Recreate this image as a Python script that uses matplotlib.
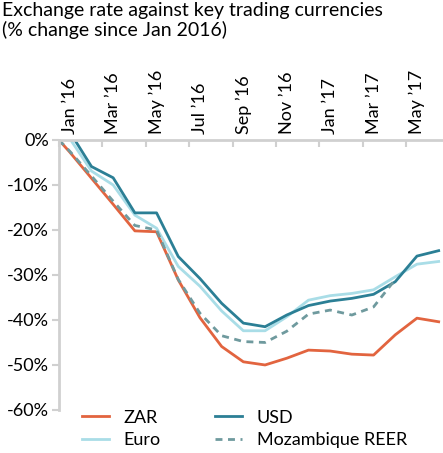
import numpy as np
import matplotlib
matplotlib.use("Agg")
import matplotlib.pyplot as plt

plt.rcParams['font.family'] = ['Lato', 'DejaVu Sans']

# monthly values, Jan '16 .. Jun '17 (% change since start of Jan 2016)
months = ["Jan '16", "Feb '16", "Mar '16", "Apr '16", "May '16", "Jun '16",
          "Jul '16", "Aug '16", "Sep '16", "Oct '16", "Nov '16", "Dec '16",
          "Jan '17", "Feb '17", "Mar '17", "Apr '17", "May '17", "Jun '17"]
zar = [-2.7, -8.5, -14.3, -20.2, -20.4, -31.1, -39.5, -45.9, -49.3, -50.0,
       -48.5, -46.7, -46.9, -47.6, -47.8, -43.3, -39.6, -40.4]
usd = [1.8, -5.9, -8.4, -16.2, -16.2, -25.9, -30.8, -36.3, -40.7, -41.5,
       -38.9, -36.8, -35.8, -35.2, -34.3, -31.5, -25.8, -24.6]
euro = [0.3, -6.9, -10.0, -16.7, -19.6, -28.1, -32.5, -38.0, -42.4, -42.4,
        -39.3, -35.6, -34.6, -34.1, -33.3, -30.4, -27.6, -27.0]
reer = [-2.5, -8.0, -13.6, -19.0, -20.0, -31.0, -38.5, -43.5, -44.8, -45.0,
        -42.5, -38.7, -37.8, -38.9, -37.1, -31.0, np.nan, np.nan]
base = 0.0  # start of January 2016

# category centres, with the base point at the start of the axis
x = np.concatenate([[0.0], np.arange(len(months)) + 0.5])

def series(vals):
    return np.concatenate([[base], vals])

fig = plt.figure(figsize=(4.43, 4.53), dpi=100)
ax = fig.add_axes([0.133, 0.095, 0.867, 0.596])

l_zar, = ax.plot(x, series(zar), color='#E2643F', lw=2, label='ZAR')
l_euro, = ax.plot(x, series(euro), color='#A9DDE7', lw=2, label='Euro')
l_usd, = ax.plot(x, series(usd), color='#2B7F95', lw=2, label='USD')
l_reer, = ax.plot(x, series(reer), color='#6F9A9E', lw=2, ls=(0, (2.5, 2)),
                  label='Mozambique REER')

ax.set_ylim(-60, 0)
ax.set_xlim(0, 17.7)
ax.set_yticks(range(-60, 1, 10))
ax.set_yticklabels([f'{v}%' for v in range(-60, 1, 10)], fontsize=13)
ax.tick_params(axis='y', length=5, width=1.5, color='#D0D0D0', pad=2)

# x axis on top: tick marks at category boundaries, labels at centres
ax.xaxis.tick_top()
ax.set_xticks(np.arange(0, 18, 2))
ax.set_xticklabels([])
ax.set_xticks(np.arange(0, 18, 2) + 0.5, minor=True)
ax.set_xticklabels([m.replace("'", "\u2019") for m in months[::2]],
                   minor=True, rotation=90, fontsize=13)
ax.tick_params(axis='x', which='major', direction='in', length=5, width=1.5,
               color='#D0D0D0')
ax.tick_params(axis='x', which='minor', length=0, pad=4)

for s in ['right', 'bottom']:
    ax.spines[s].set_visible(False)
for s in ['left', 'top']:
    ax.spines[s].set_color('#D0D0D0')
    ax.spines[s].set_linewidth(2)

fig.text(0.005, 0.995, 'Exchange rate against key trading currencies\n'
         '(% change since Jan 2016)', fontsize=14, va='top', ha='left',
         linespacing=1.1)

fig.legend(handles=[l_zar, l_euro, l_usd, l_reer], ncol=2, frameon=False,
           loc='lower left', bbox_to_anchor=(0.149, -0.025), fontsize=13,
           handlelength=1.5, columnspacing=3.0, labelspacing=0.35,
           handletextpad=0.8)

fig.savefig('out.png', dpi=100)
